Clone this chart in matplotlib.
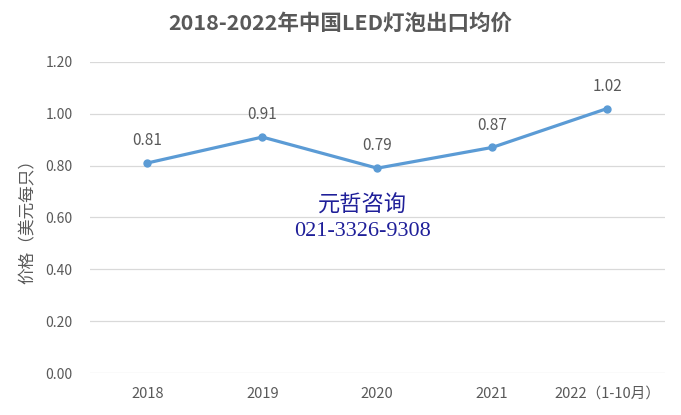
import matplotlib.pyplot as plt

plt.rcParams['font.family'] = ['Noto Sans CJK SC', 'DejaVu Sans']

years = ["2018", "2019", "2020", "2021", "2022（1-10月）"]
prices = [0.81, 0.91, 0.79, 0.87, 1.02]
y_ticks = [0.0, 0.2, 0.4, 0.6, 0.8, 1.0, 1.2]

text_color = "#595959"
line_color = "#5B9BD5"

fig = plt.figure(figsize=(6.81, 4.15), dpi=100)
ax = fig.add_axes([0.132, 0.101, 0.844, 0.75])

x = list(range(len(years)))
ax.plot(x, prices, color=line_color, lw=2.3, marker="o", markersize=5,
        solid_capstyle="round", zorder=3)
for xi, v in zip(x, prices):
    ax.annotate(f"{v:.2f}", (xi, v), xytext=(0, 10), textcoords="offset points",
                ha="center", va="bottom", fontsize=11, color=text_color)

ax.set_xlim(-0.5, len(years) - 0.5)
ax.set_ylim(0, 1.2)
ax.set_yticks(y_ticks)
ax.set_yticklabels([f"{t:.2f}" for t in y_ticks])
ax.set_xticks(x)
ax.set_xticklabels(years)
ax.tick_params(axis="both", length=0, colors=text_color)
ax.tick_params(axis="y", pad=12.5, labelsize=10)
ax.tick_params(axis="x", pad=10, labelsize=10.5)
ax.grid(axis="y", color="#D9D9D9", lw=0.9)
ax.set_axisbelow(True)
for s in ax.spines.values():
    s.set_visible(False)

ax.set_ylabel("价格（美元每只）", fontsize=12, color=text_color, labelpad=6)
fig.suptitle("2018-2022年中国LED灯泡出口均价", x=0.5, y=0.968, fontsize=15.5,
             fontweight="bold", color=text_color)

wm_font = ["Liberation Serif", "Noto Sans CJK SC"]
fig.text(0.532, 0.503, "元哲咨询", ha="center", va="center", fontsize=16,
         color="#1F1F99", family=wm_font)
fig.text(0.532, 0.443, "021-3326-9308", ha="center", va="center", fontsize=16,
         color="#1F1F99", family=wm_font)

fig.savefig("out.png", dpi=100)
